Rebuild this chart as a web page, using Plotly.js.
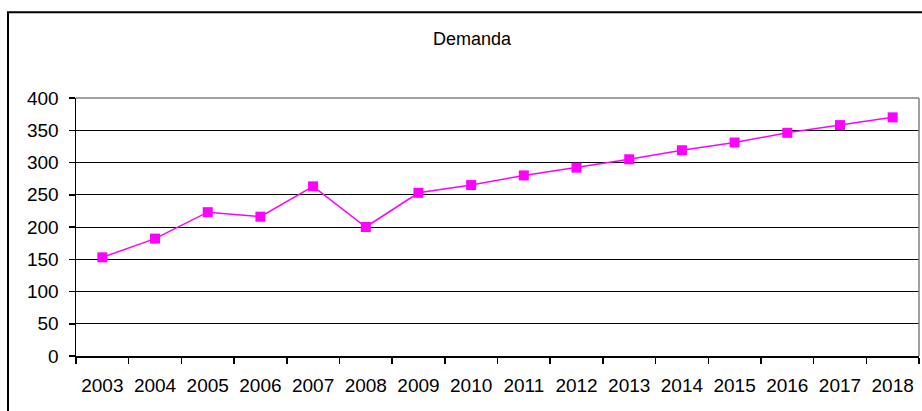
<!DOCTYPE html>
<html>
<head>
<meta charset="utf-8">
<script src="https://cdn.plot.ly/plotly-3.0.1.min.js"></script>
<style>html,body{margin:0;padding:0;background:#fff;}#chart{width:922px;height:411px;}</style>
</head>
<body>
<div id="chart"></div>
<script>
const years = ["2003","2004","2005","2006","2007","2008","2009","2010","2011","2012","2013","2014","2015","2016","2017","2018"];
const demanda = [153, 182, 223, 216, 263, 200, 253, 265, 280, 292, 305, 319, 331, 346, 358, 370];
const yTicks = [0, 50, 100, 150, 200, 250, 300, 350, 400];
const chartTitle = "Demanda";

const trace = {
  x: years,
  y: demanda,
  type: "scatter",
  mode: "lines+markers",
  line: {color: "#FF00FF", width: 1.5},
  marker: {symbol: "square", size: 10, color: "#FF00FF"},
  showlegend: false,
  hoverinfo: "x+y"
};

const layout = {
  width: 922,
  height: 411,
  margin: {l: 76, r: 3, t: 98, b: 55},
  paper_bgcolor: "#fff",
  plot_bgcolor: "#fff",
  font: {family: "Liberation Sans, Arial, sans-serif", color: "#000", size: 19},
  title: {
    text: chartTitle,
    font: {size: 18, color: "#000"},
    x: 472/922, xref: "container", xanchor: "center",
    y: 1 - 39/411, yref: "container", yanchor: "middle"
  },
  xaxis: {
    type: "category",
    range: [-0.5, years.length - 0.5],
    showgrid: false,
    showline: true, linecolor: "#000", linewidth: 1.5,
    ticks: "outside", tickson: "boundaries", ticklen: 6, tickcolor: "#000", tickwidth: 1.5,
    tickfont: {size: 19},
    ticklabelstandoff: 12,
    zeroline: false,
    fixedrange: true
  },
  yaxis: {
    range: [0, 400],
    tickvals: yTicks,
    ticktext: yTicks.map(String),
    showgrid: true, gridcolor: "#000", gridwidth: 1,
    showline: true, linecolor: "#000", linewidth: 1.5,
    ticks: "outside", ticklen: 6, tickcolor: "#000", tickwidth: 1.5,
    tickfont: {size: 19},
    ticklabelstandoff: 6,
    zeroline: false,
    fixedrange: true
  },
  shapes: [
    {type: "line", xref: "paper", yref: "paper", x0: 0, x1: 1, y0: 1, y1: 1,
     line: {color: "#808080", width: 1.5}, layer: "above"},
    {type: "line", xref: "paper", yref: "paper", x0: 1, x1: 1, y0: 0, y1: 1,
     line: {color: "#808080", width: 1.5}, layer: "above"},
    {type: "rect", xref: "paper", yref: "paper",
     x0: (8 - 76) / 843, x1: 1.2, y0: -0.5, y1: (355.7 - 12) / 258,
     line: {color: "#000", width: 2}, fillcolor: "rgba(0,0,0,0)", layer: "above"}
  ]
};

Plotly.newPlot("chart", [trace], layout, {displayModeBar: false, staticPlot: true});
</script>
</body>
</html>
